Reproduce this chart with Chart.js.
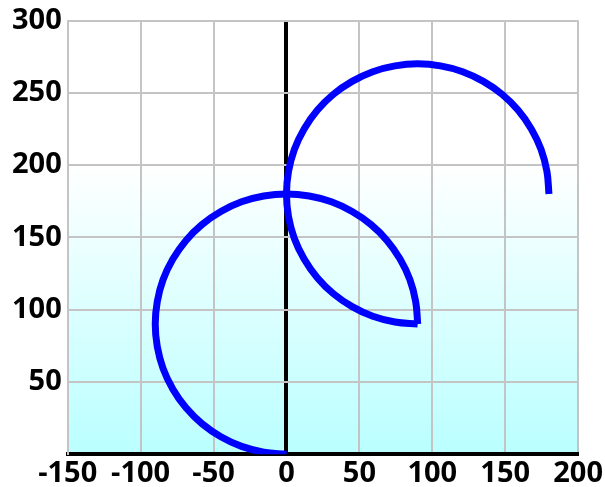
<!DOCTYPE html>
<html>
<head>
<meta charset="utf-8">
<script src="https://cdn.jsdelivr.net/npm/chart.js@4/dist/chart.umd.min.js"></script>
<style>
html,body{margin:0;padding:0;background:#fff;}
#wrap{width:605px;height:487px;position:relative;}
</style>
</head>
<body>
<div id="wrap"><canvas id="c" width="605" height="487"></canvas></div>
<script>
// Curve points (x, y): lower arc, then upper arc
const arc1X = [0, -15.6, -30.8, -45, -57.9, -68.9, -77.9, -84.6, -88.6, -90, -88.6, -84.6, -77.9, -68.9, -57.9, -45, -30.8, -15.6, 0, 15.6, 30.8, 45, 57.9, 68.9, 77.9, 84.6, 88.6, 90];
const arc1Y = [0, 1.4, 5.4, 12.1, 21.1, 32.1, 45, 59.2, 74.4, 90, 105.6, 120.8, 135, 147.9, 158.9, 167.9, 174.6, 178.6, 180, 178.6, 174.6, 167.9, 158.9, 147.9, 135, 120.8, 105.6, 90];
const arc2X = [90, 74.4, 59.2, 45, 32.1, 21.1, 12.1, 5.4, 1.4, 0, 1.4, 5.4, 12.1, 21.1, 32.1, 45, 59.2, 74.4, 90, 105.6, 120.8, 135, 147.9, 158.9, 167.9, 174.6, 178.6, 180];
const arc2Y = [90, 91.4, 95.4, 102.1, 111.1, 122.1, 135, 149.2, 164.4, 180, 195.6, 210.8, 225, 237.9, 248.9, 257.9, 264.6, 268.6, 270, 268.6, 264.6, 257.9, 248.9, 237.9, 225, 210.8, 195.6, 180];
const xTicks = [-150, -100, -50, 0, 50, 100, 150, 200];
const yTicks = [50, 100, 150, 200, 250, 300];

const toPts = (xs, ys) => xs.map((x, i) => ({x: x, y: ys[i]}));

const bgPlugin = {
  id: 'bg',
  beforeDraw(chart) {
    const {ctx, chartArea: a} = chart;
    const g = ctx.createLinearGradient(0, a.top, 0, a.bottom);
    g.addColorStop(0, '#ffffff');
    g.addColorStop(0.33, '#ffffff');
    g.addColorStop(1, '#baffff');
    ctx.save();
    ctx.fillStyle = g;
    ctx.fillRect(a.left, a.top, a.right - a.left, a.bottom - a.top);
    ctx.restore();
  }
};

const xFont = {family: '"Open Sans", sans-serif', size: 29, weight: 'bold'};
const yFont = {family: '"Open Sans", sans-serif', size: 29, weight: 'bold', lineHeight: 1.0};
const lineStyle = {
  showLine: true, borderColor: '#0000ff', borderWidth: 7, pointRadius: 0,
  tension: 0.4, borderCapStyle: 'butt', borderJoinStyle: 'round'
};

new Chart(document.getElementById('c'), {
  type: 'scatter',
  data: {
    datasets: [
      Object.assign({data: toPts(arc1X, arc1Y)}, lineStyle),
      Object.assign({data: toPts(arc2X, arc2Y)}, lineStyle)
    ]
  },
  options: {
    responsive: false,
    animation: false,
    layout: {padding: {left: 6, top: 0, right: 1, bottom: -6}},
    plugins: {legend: {display: false}, tooltip: {enabled: false}},
    scales: {
      x: {
        type: 'linear', min: -150, max: 200,
        afterBuildTicks: s => { s.ticks = xTicks.map(v => ({value: v})); },
        grid: {
          drawTicks: false,
          color: c => c.tick && c.tick.value === 0 ? '#000000' : '#c4c4c4',
          lineWidth: c => c.tick && c.tick.value === 0 ? 4 : 2
        },
        border: {color: '#000000', width: 4},
        ticks: {color: '#000000', font: xFont, padding: 2, maxRotation: 0, autoSkip: false}
      },
      y: {
        type: 'linear', min: 0, max: 300,
        afterBuildTicks: s => { s.ticks = [{value: 0}].concat(yTicks.map(v => ({value: v}))); },
        grid: {drawTicks: false, color: '#c4c4c4', lineWidth: 2},
        border: {color: '#c4c4c4', width: 2},
        ticks: {color: '#000000', font: yFont, padding: 6, autoSkip: false,
          callback: v => v === 0 ? '' : v}
      }
    }
  },
  plugins: [bgPlugin]
});
</script>
</body>
</html>
